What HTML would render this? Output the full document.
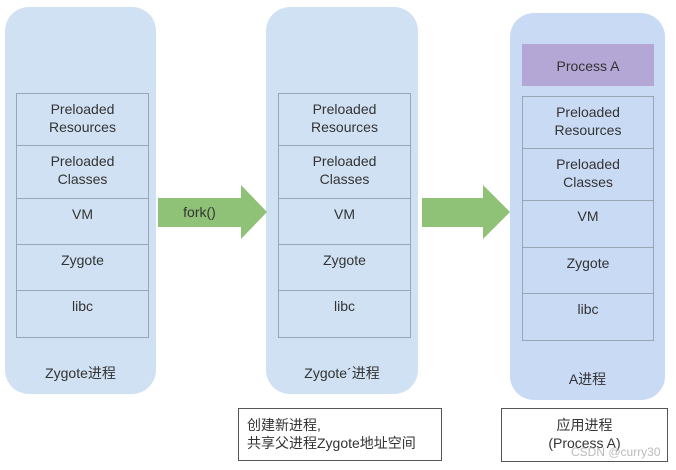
<!DOCTYPE html>
<html><head><meta charset="utf-8"><style>
body{margin:0;width:676px;height:470px;background:#fff;position:relative;overflow:hidden;font-family:"Liberation Sans","Noto Sans CJK SC",sans-serif;color:#333}
.p{position:absolute;border-radius:24px;background:#d0e1f3}
.s{position:absolute;border:1px solid #9aa5b5;box-sizing:border-box;display:flex;align-items:flex-start;justify-content:center;text-align:center;font-size:14px;line-height:18px;padding-top:6px}
.t{position:absolute;font-size:14px;text-align:center}
.b{position:absolute;border:1px solid #555;box-sizing:border-box;font-size:14px;line-height:18px;background:#fff}
</style></head><body>
<div class="p" style="left:5px;top:7px;width:151px;height:387px"></div>
<div class="p" style="left:266px;top:7px;width:152px;height:387px"></div>
<div class="p" style="left:510px;top:13px;width:155px;height:387px;background:#c9daf5"></div>

<div id="c1"></div>
<script>
function stack(x,y,w,rows){let h='';for(const r of rows){h+=`<div class="s" style="left:${x}px;top:${y}px;width:${w}px;height:${r[1]+1}px">${r[0]}</div>`;y+=r[1];}return h;}
const rows=(a)=>[["Preloaded<br>Resources",a[0]],["Preloaded<br>Classes",a[1]],["VM",a[2]],["Zygote",a[3]],["libc",a[4]]];
document.getElementById('c1').outerHTML=stack(16,93,133,rows([52,53,46,46,47]))+stack(278,93,133,rows([52,53,46,46,47]))+stack(522,96,132,rows([52,52,47,46,47]));
</script>
<div class="s" style="left:522px;top:44px;width:132px;height:42px;background:#b4a7d6;border:none;padding-top:13px">Process A</div>

<svg style="position:absolute;left:0;top:0" width="676" height="470">
<polygon points="158,198 241,198 241,185 267,212 241,239 241,227 158,227" fill="#8fc177"/>
<polygon points="422,198 483,198 483,185 510,212 483,239 483,227 422,227" fill="#8fc177"/>
</svg>
<div class="t" style="left:158px;top:204px;width:83px">fork()</div>

<div class="t" style="left:5px;top:363px;width:151px">Zygote进程</div>
<div class="t" style="left:266px;top:363px;width:152px">Zygote´进程</div>
<div class="t" style="left:510px;top:369px;width:155px">A进程</div>

<div class="b" style="left:238px;top:408px;width:204px;height:53px;padding:7px 0 0 8px">创建新进程,<br>共享父进程Zygote地址空间</div>
<div class="b" style="left:501px;top:408px;width:167px;height:54px;padding-top:7px;text-align:center">应用进程<br>(Process A)</div>
<div style="position:absolute;left:571px;top:445px;font-size:12px;color:#bbb">CSDN @curry30</div>
</body></html>
